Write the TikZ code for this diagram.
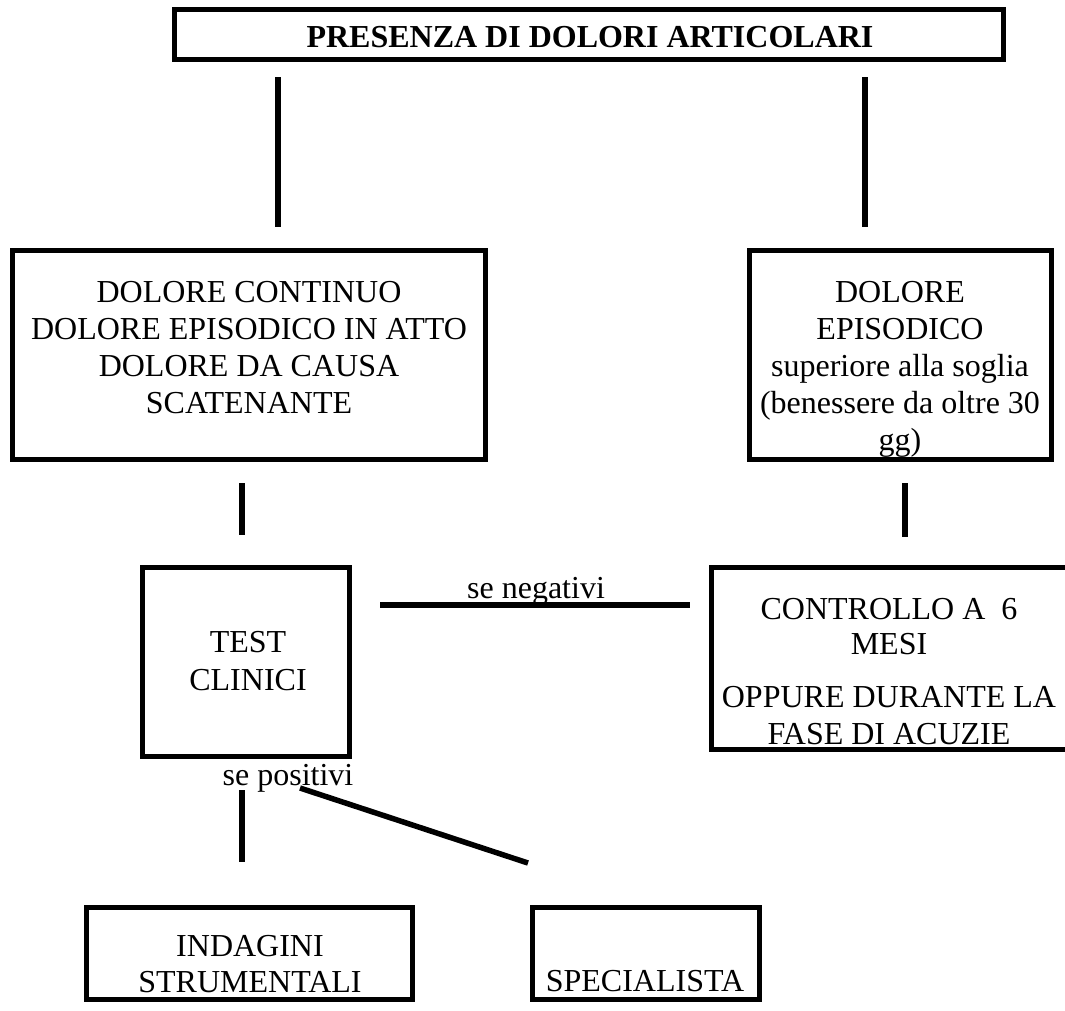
\documentclass[tikz,border=0pt]{standalone}
\usepackage{fontspec}
\setmainfont{Liberation Serif}
\newcommand{\mlines}[1]{\begin{tabular}[t]{@{}c@{}}#1\end{tabular}}
\begin{document}
\begin{tikzpicture}[x=1pt,y=-1pt,
  box/.style={draw, line width=5pt, inner sep=0pt, rectangle},
  conn/.style={line width=5.5pt},
  txt/.style={font=\fontsize{32}{37}\selectfont, anchor=base, inner sep=0pt}]
\useasboundingbox (0,0) rectangle (1065,1010);
\clip (0,0) rectangle (1065,1010);
% boxes
\node[box, minimum width=829pt, minimum height=50pt] (top) at (589,34.5) {};
\node[box, minimum width=473pt, minimum height=209pt] (left) at (249,355) {};
\node[box, minimum width=302pt, minimum height=209pt] (right) at (900.5,355) {};
\node[box, minimum width=207pt, minimum height=189pt] (test) at (246,662) {};
\node[box, minimum width=361pt, minimum height=182pt] (ctrl) at (892,658.5) {};
\node[box, minimum width=326pt, minimum height=92pt] (indag) at (249.5,953.5) {};
\node[box, minimum width=227pt, minimum height=92pt] (spec) at (646,953.5) {};
% texts
\node[txt, font=\fontsize{32}{37}\selectfont\bfseries] (toptxt) at (590,47) {PRESENZA DI DOLORI ARTICOLARI};
\node[txt] (lefttxt) at (249,302) {\mlines{DOLORE CONTINUO\\DOLORE EPISODICO IN ATTO\\DOLORE DA CAUSA\\SCATENANTE}};
\node[txt] (righttxt) at (900,302) {\mlines{DOLORE\\EPISODICO\\superiore alla soglia\\(benessere da oltre 30\\gg)}};
\node[txt] (testtxt) at (248,652) {\mlines{TEST\\[1pt]CLINICI}};
\node[txt] (ctrltxt) at (889,619) {\mlines{CONTROLLO A~~6\\[-2pt]MESI\\[16pt]OPPURE DURANTE LA\\FASE DI ACUZIE}};
\node[txt] (indagtxt) at (250,956) {\mlines{INDAGINI\\[-1pt]STRUMENTALI}};
\node[txt] (spectxt) at (645,991) {SPECIALISTA};
\node[txt] (neg) at (536,598) {se negativi};
\node[txt] (pos) at (288,785) {se positivi};
% connector end points
\coordinate (a1) at (278,77);  \coordinate (a2) at (278,227);
\coordinate (b1) at (865,77);  \coordinate (b2) at (865,227);
\coordinate (c1) at (242,483); \coordinate (c2) at (242,535);
\coordinate (d1) at (905,483); \coordinate (d2) at (905,537);
\coordinate (e1) at (380,605); \coordinate (e2) at (690,605);
\coordinate (f1) at (242,790); \coordinate (f2) at (242,862);
\coordinate (g1) at (300,788); \coordinate (g2) at (528,863);
\draw[conn] (a1) -- (a2);
\draw[conn] (b1) -- (b2);
\draw[conn] (c1) -- (c2);
\draw[conn] (d1) -- (d2);
\draw[conn] (e1) -- (e2);
\draw[conn] (f1) -- (f2);
\draw[conn] (g1) -- (g2);
\end{tikzpicture}
\end{document}
